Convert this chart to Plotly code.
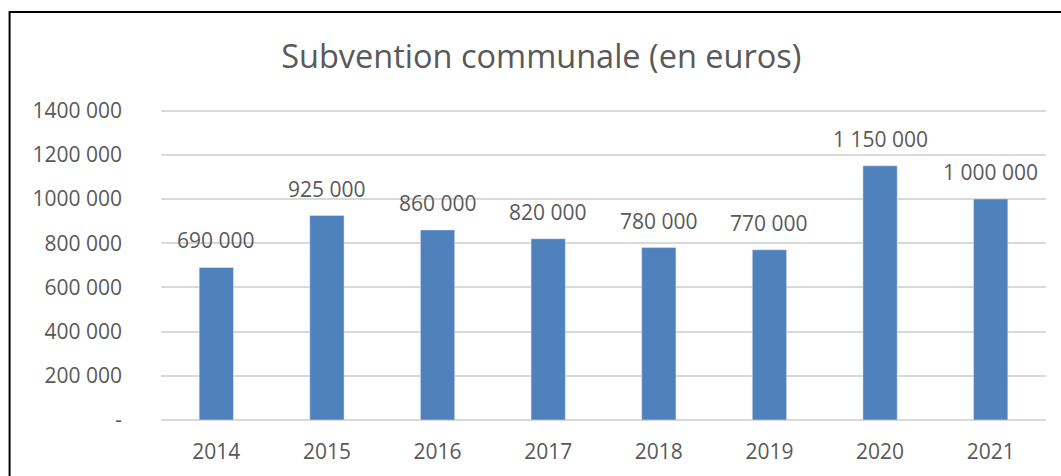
import plotly.graph_objects as go

years = ["2014", "2015", "2016", "2017", "2018", "2019", "2020", "2021"]
values = [690000, 925000, 860000, 820000, 780000, 770000, 1150000, 1000000]
value_labels = ["690 000", "925 000", "860 000", "820 000", "780 000", "770 000", "1 150 000", "1 000 000"]
y_ticks = [0, 200000, 400000, 600000, 800000, 1000000, 1200000, 1400000]
y_tick_labels = ["-", "200 000", "400 000", "600 000", "800 000", "1000 000", "1200 000", "1400 000"]

W, H = 1061, 476
ml, mr, mt, mb = 160.5, 15, 109, 56
pw, ph = W - ml - mr, H - mt - mb

FONT = "Open Sans"
TXT = "#595959"

fig = go.Figure(go.Bar(x=years, y=values, marker_color="#4F81BD", width=0.31))

for i, (v, t) in enumerate(zip(values, value_labels)):
    fig.add_annotation(x=i, y=v, text=t, showarrow=False, yanchor="bottom",
                       yshift=11, font=dict(family=FONT, size=21, color=TXT))

def px2x(p):
    return (p - ml) / pw

def py2y(p):
    return 1 - (p - mt) / ph

fig.add_shape(type="rect", xref="paper", yref="paper",
              x0=px2x(9), x1=px2x(1075), y0=py2y(490), y1=py2y(12),
              line=dict(color="black", width=2), fillcolor="rgba(0,0,0,0)")

fig.update_layout(
    width=W, height=H,
    margin=dict(l=ml, r=mr, t=mt, b=mb),
    paper_bgcolor="white", plot_bgcolor="white",
    showlegend=False,
    title=dict(text="Subvention communale (en euros)", x=px2x(541), xref="paper",
               xanchor="center", y=1 - 57 / H, yanchor="middle",
               font=dict(family=FONT, size=32.5, color=TXT)),
    font=dict(family=FONT, size=21, color=TXT),
)
fig.update_xaxes(type="category", range=[-0.5, len(years) - 0.5], showgrid=False,
                 showline=False, ticks="", tickfont=dict(size=21, color=TXT),
                 ticklabelstandoff=17)
fig.update_yaxes(range=[0, 1407000], tickvals=y_ticks, ticktext=y_tick_labels,
                 showgrid=True, gridcolor="#D9D9D9", gridwidth=1.5,
                 zeroline=True, zerolinecolor="#D9D9D9", zerolinewidth=1.5,
                 showline=False, ticks="", tickfont=dict(size=21, color=TXT),
                 ticklabelstandoff=38)

fig.write_html("out.html", config={"displayModeBar": False},
               post_script="document.body.style.margin='0';document.body.style.overflow='hidden';")
